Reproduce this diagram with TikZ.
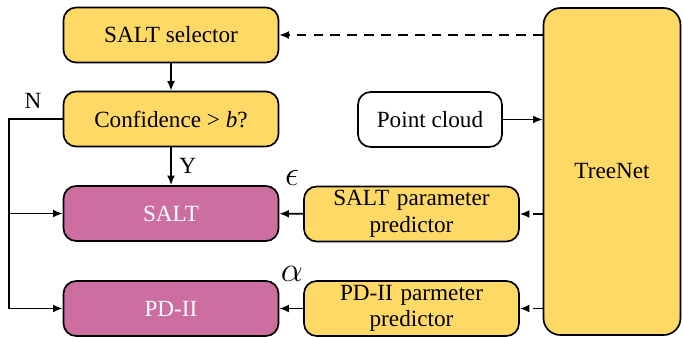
\documentclass[tikz,border=0pt]{standalone}
\usepackage{fontspec}
\setmainfont{Liberation Serif}
\usetikzlibrary{arrows.meta, positioning}
\definecolor{cyellow}{HTML}{FED966}
\definecolor{cpink}{HTML}{CC6EA0}
\tikzset{
  every picture/.style={font=\fontsize{16.5}{18}\selectfont, line width=1.2pt},
  box/.style={draw=black, fill=#1, rounded corners=9pt, align=center, minimum width=5.375cm, minimum height=1.375cm, inner sep=2pt},
  box/.default=cyellow,
  arrow/.style={-{Latex[length=2.4mm, width=2mm]}, draw=black, line width=1.2pt},
  dasharrow/.style={arrow, dash pattern=on 7pt off 5pt},
  lbl/.style={font=\fontsize{16.5}{18}\selectfont},
  sym/.style={font=\fontsize{26}{28}\selectfont},
}

\begin{document}
\begin{tikzpicture}
  \useasboundingbox (0,0) rectangle (17.075,-8.425);
  % left column
  \node[box] (selector) at (4.275,-0.875) {SALT selector};
  \node[box] (conf) at (4.275,-2.975) {Confidence > \textit{b}?};
  \node[box=cpink, text=white] (salt) at (4.275,-5.3375) {SALT};
  \node[box=cpink, text=white] (pd) at (4.275,-7.7125) {PD-II};
  % right side
  \node[box=white, minimum width=3.6cm] (cloud) at (10.75,-2.9875) {Point cloud};
  \node[box, rounded corners=12pt, minimum width=3.425cm, minimum height=8.175cm] (treenet) at (15.3,-4.2875) {TreeNet};
  \node[box, text width=5cm, font=\fontsize{16.5}{19}\selectfont] (saltpar) at (10.2875,-5.35) {SALT parameter\\predictor};
  \node[box, text width=5cm, font=\fontsize{16.5}{19}\selectfont] (pdpar) at (10.2875,-7.7125) {PD-II parmeter\\predictor};
  % connectors
  \draw[dasharrow] (treenet.west |- selector) -- (selector.east);
  \draw[arrow] (selector) -- (conf);
  \draw[arrow] (conf) -- node[lbl, right=2pt, pos=0.5] {Y} (salt);
  \coordinate (nleft) at (0.225,-2.975);
  \draw[arrow] (conf.west) -- (nleft) |- (pd.west);
  \draw[arrow] (nleft |- salt.west) -- (salt.west);
  \node[lbl] (nlbl) at (0.825,-2.525) {N};
  \draw[arrow] (cloud) -- (treenet.west |- cloud);
  \draw[dasharrow] (treenet.west |- saltpar) -- (saltpar.east);
  \draw[dasharrow] (treenet.west |- pdpar) -- (pdpar.east);
  \draw[arrow] (saltpar) -- (salt);
  \draw[arrow] (pdpar) -- (pd);
  \node[sym] (eps) at (7.3,-4.45) {$\epsilon$};
  \node[sym] (alp) at (7.3,-6.85) {$\alpha$};
\end{tikzpicture}
\end{document}
